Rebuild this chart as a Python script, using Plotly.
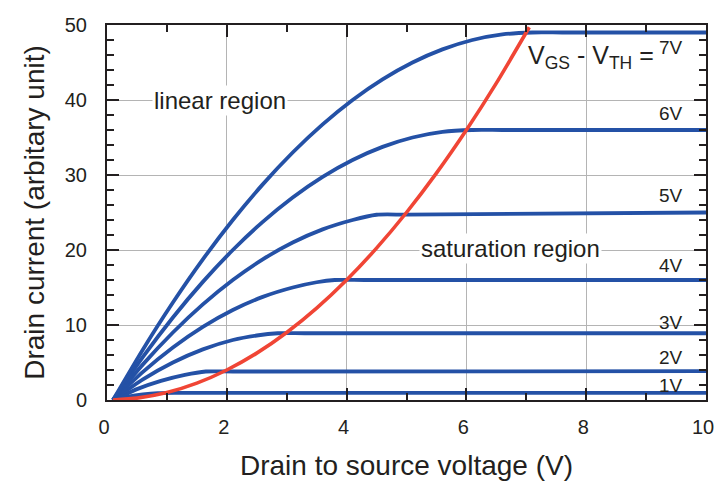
import plotly.graph_objects as go

# ---- data ----
vds_7 = [0.1, 0.6, 1.1, 1.6, 2.1, 2.6, 3.1, 3.6, 4.1, 4.6, 5.1, 5.6, 6.1, 6.6, 7.1, 7.6, 10]
id_7 = [0, 6.75, 13, 18.75, 24, 28.75, 33, 36.75, 40, 42.75, 45, 46.75, 48, 48.75, 49, 49, 49]

vds_6 = [0.1, 0.6, 1.1, 1.6, 2.1, 2.6, 3.1, 3.6, 4.1, 4.6, 5.1, 5.6, 6.1, 6.6, 10]
id_6 = [0, 5.75, 11, 15.75, 20, 23.75, 27, 29.75, 32, 33.75, 35, 35.75, 36, 36, 36]

vds_5 = [0.1, 0.6, 1.1, 1.6, 2.1, 2.6, 3.1, 3.6, 4.1, 4.5, 5.0, 10]
id_5 = [0, 4.75, 9, 12.75, 16, 18.75, 21, 22.75, 24, 24.7, 24.72, 25]

vds_4 = [0.1, 0.6, 1.1, 1.6, 2.1, 2.6, 3.1, 3.5, 3.8, 4.3, 10]
id_4 = [0, 3.75, 7, 9.75, 12, 13.75, 15, 15.7, 16, 16, 16]

vds_3 = [0.1, 0.6, 1.1, 1.6, 2.1, 2.5, 2.85, 3.3, 10]
id_3 = [0, 2.75, 5, 6.75, 8, 8.6, 8.9, 8.9, 8.9]

vds_2 = [0.1, 0.5, 0.9, 1.3, 1.65, 2.1, 10]
id_2 = [0, 1.45, 2.55, 3.35, 3.8, 3.8, 3.85]

vds_1 = [0.1, 0.35, 0.6, 0.85, 1.2, 10]
id_1 = [0, 0.45, 0.75, 0.92, 0.95, 0.95]

vds_sat = [0.1, 0.5, 1.0, 1.5, 2.0, 2.5, 3.0, 3.5, 4.0, 4.5, 5.0, 5.5, 6.0, 6.5, 7.05]
id_sat = [0, 0.25, 1.0, 2.25, 4.0, 6.25, 9.0, 12.25, 16.0, 20.25, 25.0, 30.25, 36.0, 42.25, 49.7]

curve_labels = ["1V", "2V", "3V", "4V", "5V", "6V"]
curve_label_y = [2.0, 5.7, 10.3, 18.0, 27.3, 38.2]

x_ticks = [0, 2, 4, 6, 8, 10]
y_ticks = [0, 10, 20, 30, 40, 50]

BLUE = "#2451a6"
RED = "#f04535"
TXT = "#231f20"
FONT = "Liberation Sans, Arial, sans-serif"

fig = go.Figure()
for xs, ys in [(vds_1, id_1), (vds_2, id_2), (vds_3, id_3), (vds_4, id_4),
               (vds_5, id_5), (vds_6, id_6), (vds_7, id_7)]:
    fig.add_trace(go.Scatter(x=xs, y=ys, mode="lines",
                             line=dict(color=BLUE, width=3.8, shape="spline", smoothing=0.6),
                             hoverinfo="skip", showlegend=False))
fig.add_trace(go.Scatter(x=vds_sat, y=id_sat, mode="lines",
                         line=dict(color=RED, width=3.6, shape="spline", smoothing=0.6),
                         hoverinfo="skip", showlegend=False))

ann = []
for lab, yy in zip(curve_labels, curve_label_y):
    ann.append(dict(x=9.65, y=yy, xref="x", yref="y", text=lab, showarrow=False,
                    xanchor="right", yanchor="middle",
                    font=dict(family=FONT, size=19, color=TXT)))
ann.append(dict(x=9.17, y=45.8, xref="x", yref="y",
                text="V<sub>GS</sub> - V<sub>TH</sub> =", showarrow=False,
                xanchor="right", yanchor="middle",
                font=dict(family=FONT, size=25, color=TXT)))
ann.append(dict(x=9.65, y=47.0, xref="x", yref="y", text="7V", showarrow=False,
                xanchor="right", yanchor="middle",
                font=dict(family=FONT, size=19, color=TXT)))
ann.append(dict(x=1.89, y=40, xref="x", yref="y", text="linear region", showarrow=False,
                xanchor="center", yanchor="middle", bgcolor="white",
                font=dict(family=FONT, size=24, color=TXT)))
ann.append(dict(x=6.73, y=20.2, xref="x", yref="y", text="saturation region", showarrow=False,
                xanchor="center", yanchor="middle", bgcolor="white",
                font=dict(family=FONT, size=24, color=TXT)))

axis_common = dict(showline=True, linecolor="#231f20", linewidth=2, mirror="ticks",
                   ticks="inside", ticklen=12, tickwidth=2, tickcolor="#231f20",
                   showgrid=True, gridcolor="#b4b4b4", gridwidth=1, zeroline=False,
                   tickfont=dict(family=FONT, size=20, color=TXT))

fig.update_layout(
    width=716, height=485,
    margin=dict(l=107, r=10, t=25, b=85, autoexpand=False),
    paper_bgcolor="white", plot_bgcolor="white",
    annotations=ann,
    xaxis=dict(range=[0, 10], tickvals=x_ticks, ticktext=[str(v) for v in x_ticks],
               minor=dict(ticks="inside", dtick=1, ticklen=7, tickwidth=2,
                          tickcolor="#231f20", showgrid=False),
               ticklabelstandoff=8, ticklabeloverflow="allow", ticklabelshift=-3,
               title=dict(text="Drain to source voltage (V)", standoff=18,
                          font=dict(family=FONT, size=28, color=TXT)),
               **axis_common),
    yaxis=dict(range=[0, 50], tickvals=y_ticks, ticktext=[str(v) for v in y_ticks],
               minor=dict(ticks="inside", dtick=2, ticklen=7, tickwidth=2,
                          tickcolor="#231f20", showgrid=False),
               ticklabelstandoff=14,
               title=dict(text="Drain current (arbitary unit)", standoff=12,
                          font=dict(family=FONT, size=28, color=TXT)),
               **axis_common),
)

fig.write_html("out.html", config={"displayModeBar": False},
               post_script="document.body.style.margin='0px';document.body.style.overflow='hidden';")
